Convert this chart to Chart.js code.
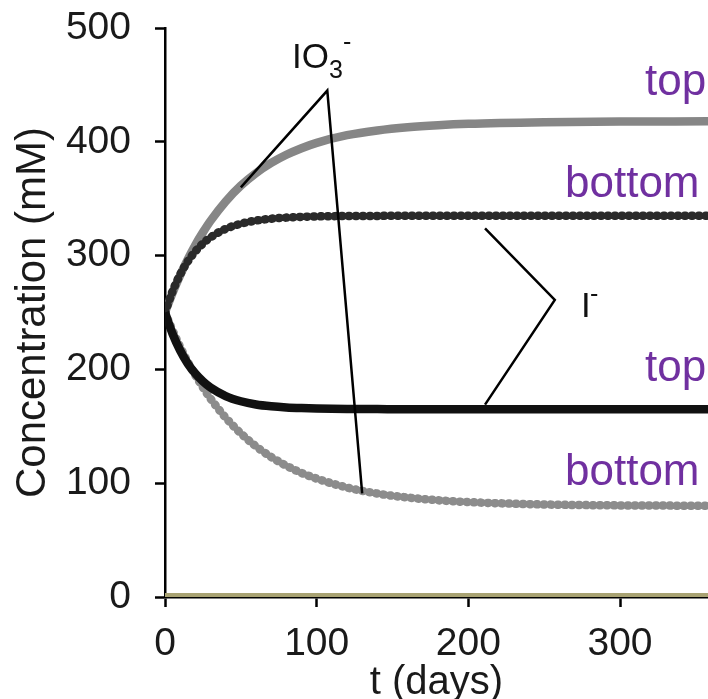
<!DOCTYPE html>
<html>
<head>
<meta charset="utf-8">
<script src="https://cdn.jsdelivr.net/npm/chart.js@4/dist/chart.umd.min.js"></script>
<style>
  body { margin: 0; background: #fff; }
  canvas { display: block; }
</style>
</head>
<body>
<canvas id="GraficoConc" width="708" height="699"></canvas>
<script>
// time points (days) and concentrations (mM)
const dias = [0, 5, 10, 15, 20, 25, 30, 40, 50, 60, 70, 80, 90, 100, 120, 140, 160, 180, 200, 250, 300, 358];
const io3Top = [250, 267.3, 282.8, 296.7, 309.3, 320.4, 330.5, 347.6, 361.4, 372.5, 381.4, 388.6, 394.4, 399.1, 405.8, 410, 412.8, 414.6, 415.8, 417.2, 417.8, 418];
const iBottom = [250, 268.8, 283.4, 294.9, 303.7, 310.6, 316, 323.5, 328, 330.8, 332.4, 333.4, 334, 334.4, 334.8, 334.9, 335, 335, 335, 335, 335, 335];
const iTop = [250, 231.2, 216.6, 205.1, 196.3, 189.4, 184, 176.5, 172, 169.2, 167.6, 166.6, 166, 165.6, 165.2, 165.1, 165, 165, 165, 165, 165, 165];
const io3Bottom = [250, 234.2, 219.7, 206.6, 194.9, 184.2, 174.4, 157.6, 143.8, 132.4, 123, 115.4, 109, 104, 96.2, 90.9, 87.4, 85, 83.4, 81.3, 80.5, 80.2];

// callout leader lines
const io3LeaderX = [50, 107, 130];
const io3LeaderY = [360, 445, 91];
const iLeaderX = [211, 257, 211];
const iLeaderY = [324, 261, 169];

const yTicks = [0, 100, 200, 300, 400, 500];
const xTicks = [0, 100, 200, 300];

function pontos(xs, ys) {
  return xs.map((x, i) => ({ x: x, y: ys[i] }));
}

const roxo = "#7030a0";
const fonte = "'Liberation Sans', Arial, sans-serif";

// labels drawn on the chart (top / bottom, ion names)
const rotulos = {
  id: "rotulos",
  afterDatasetsDraw(chart) {
    const ctx = chart.ctx;
    ctx.save();
    ctx.textBaseline = "alphabetic";
    ctx.textAlign = "left";
    ctx.fillStyle = roxo;
    ctx.font = "44px " + fonte;
    ctx.fillText("top", 645, 95);
    ctx.fillText("bottom", 565, 197);
    ctx.fillText("top", 645, 381);
    ctx.fillText("bottom", 565, 485);

    ctx.fillStyle = "#111";
    ctx.font = "35px " + fonte;
    ctx.fillText("IO", 292, 68);
    let w = ctx.measureText("IO").width;
    ctx.font = "25px " + fonte;
    ctx.fillText("3", 292 + w, 78);
    ctx.fillText("-", 292 + w + 14, 50);

    ctx.font = "35px " + fonte;
    ctx.fillText("I", 581, 317);
    ctx.font = "25px " + fonte;
    ctx.fillText("-", 590, 302);
    ctx.restore();
  },
};

const conta = { borderWidth: 8.5, borderCapStyle: "round", borderDash: [1, 6] };
const leader = { borderColor: "#000", borderWidth: 2.5, tension: 0, cubicInterpolationMode: "default" };

new Chart(document.getElementById("GraficoConc"), {
  type: "line",
  data: {
    datasets: [
      { data: pontos(io3LeaderX, io3LeaderY), ...leader },
      { data: pontos(iLeaderX, iLeaderY), ...leader },
      { data: pontos(dias, iTop), borderColor: "#111", borderWidth: 8.5 },
      { data: pontos(dias, iBottom), borderColor: "#2a2a2a", ...conta },
      { data: pontos(dias, io3Top), borderColor: "#868686", borderWidth: 8.5 },
      { data: pontos(dias, io3Bottom), borderColor: "#8c8c8c", ...conta },
      { data: pontos([0, 358], [0, 0]), borderColor: "#a8a272", borderWidth: 8, clip: 0 },
    ],
  },
  options: {
    responsive: false,
    animation: false,
    layout: { padding: { top: 28, right: 0, left: 0, bottom: 0 } },
    elements: {
      point: { radius: 0 },
      line: { cubicInterpolationMode: "monotone", fill: false },
    },
    plugins: { legend: { display: false }, tooltip: { enabled: false } },
    scales: {
      x: {
        type: "linear",
        min: 0,
        max: 358,
        z: 1,
        afterFit: (s) => { s.height = 102; s.paddingLeft = 0; s.paddingRight = 0; },
        afterBuildTicks: (s) => { s.ticks = xTicks.map((v) => ({ value: v })); },
        border: { color: "#000", width: 2.5 },
        grid: { drawOnChartArea: false, tickLength: 10, tickColor: "#000", tickWidth: 2.5 },
        ticks: {
          padding: 14,
          color: "#1a1a1a",
          font: { family: fonte, size: 39 },
        },
        title: {
          display: true,
          text: "t (days)",
          color: "#1a1a1a",
          font: { family: fonte, size: 40, lineHeight: 1 },
          padding: { top: 0, bottom: -4 },
        },
      },
      y: {
        min: 0,
        max: 500,
        z: 1,
        afterFit: (s) => { s.width = 165; s.paddingTop = 0; s.paddingBottom = 0; },
        afterBuildTicks: (s) => { s.ticks = yTicks.map((v) => ({ value: v })); },
        border: { color: "#000", width: 2.5 },
        grid: { drawOnChartArea: false, tickLength: 10, tickColor: "#000", tickWidth: 2.5 },
        ticks: {
          padding: 24,
          color: "#1a1a1a",
          font: { family: fonte, size: 39 },
        },
        title: {
          display: true,
          text: "Concentration (mM)",
          color: "#1a1a1a",
          font: { family: fonte, size: 42, lineHeight: 1 },
          padding: { top: 12, bottom: 0 },
        },
      },
    },
  },
  plugins: [rotulos],
});
</script>
</body>
</html>
